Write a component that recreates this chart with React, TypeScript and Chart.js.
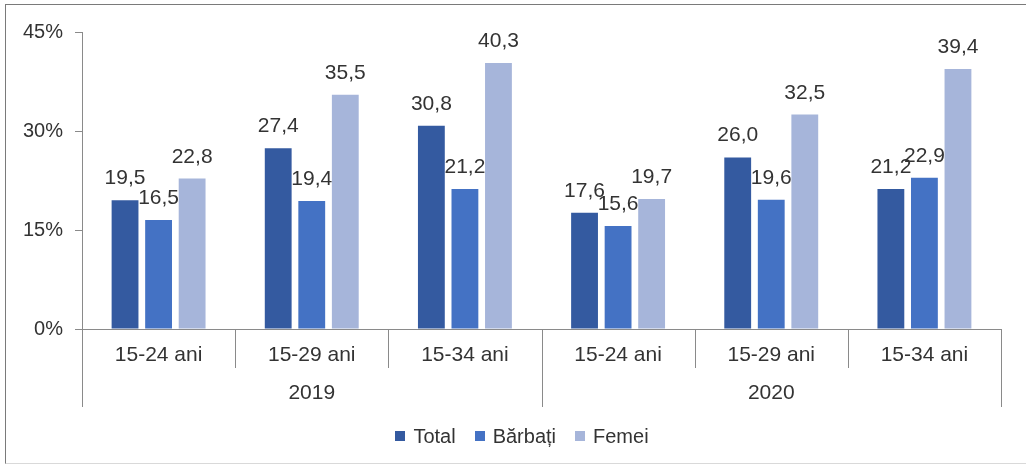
import React, { useEffect, useRef } from "react";
import { Chart, registerables } from "chart.js";

Chart.register(...registerables);

const categories = ["15-24 ani", "15-29 ani", "15-34 ani", "15-24 ani", "15-29 ani", "15-34 ani"];
const years = ["2019", "2020"];
const groupSize = 3;
const totalValues = [19.5, 27.4, 30.8, 17.6, 26.0, 21.2];
const barbatiValues = [16.5, 19.4, 21.2, 15.6, 19.6, 22.9];
const femeiValues = [22.8, 35.5, 40.3, 19.7, 32.5, 39.4];
const seriesNames = ["Total", "Bărbați", "Femei"];
const seriesColors = ["#345AA0", "#4472C4", "#A6B5DA"];
const yTicks = [0, 15, 30, 45];

const FONT = "'Liberation Sans', Arial, sans-serif";
const TEXT = "#333333";
const AXIS = "#8a8a8a";

const fmt = (v: number) => v.toFixed(1).replace(".", ",");

const labelsPlugin = {
  id: "valueLabels",
  afterDatasetsDraw(chart: any) {
    const ctx = chart.ctx;
    ctx.save();
    ctx.font = `21px ${FONT}`;
    ctx.fillStyle = TEXT;
    ctx.textAlign = "center";
    ctx.textBaseline = "alphabetic";
    chart.data.datasets.forEach((ds: any, di: number) => {
      const meta = chart.getDatasetMeta(di);
      meta.data.forEach((bar: any, i: number) => {
        ctx.fillText(fmt(ds.data[i]), bar.x, bar.y - 16);
      });
    });
    ctx.restore();
  },
};

const axisPlugin = {
  id: "groupAxis",
  afterDraw(chart: any) {
    const ctx = chart.ctx;
    const x = chart.scales.x;
    const area = chart.chartArea;
    const n = categories.length;
    const bound = (i: number) => {
      if (i === 0) return area.left;
      if (i === n) return area.right;
      return (x.getPixelForValue(i - 1) + x.getPixelForValue(i)) / 2;
    };
    ctx.save();
    ctx.strokeStyle = AXIS;
    ctx.lineWidth = 1;
    for (let i = 0; i <= n; i++) {
      const px = Math.round(bound(i)) + 0.5;
      const end = i % groupSize === 0 ? area.bottom + 78 : area.bottom + 39;
      ctx.beginPath();
      ctx.moveTo(px, area.bottom);
      ctx.lineTo(px, end);
      ctx.stroke();
    }
    ctx.font = `21px ${FONT}`;
    ctx.fillStyle = TEXT;
    ctx.textAlign = "center";
    ctx.textBaseline = "middle";
    years.forEach((yr, g) => {
      const cx = (bound(g * groupSize) + bound((g + 1) * groupSize)) / 2;
      ctx.fillText(yr, cx, area.bottom + 64);
    });

    // legend
    ctx.font = `20px ${FONT}`;
    ctx.textAlign = "left";
    const box = 10;
    const textGap = 8;
    const itemGap = 19;
    const widths = chart.data.datasets.map((ds: any) => box + textGap + ctx.measureText(ds.label).width);
    const total = widths.reduce((a: number, b: number) => a + b, 0) + itemGap * (widths.length - 1);
    let lx = chart.width / 2 + 9 - total / 2;
    const ly = area.bottom + 107;
    chart.data.datasets.forEach((ds: any, i: number) => {
      ctx.fillStyle = ds.backgroundColor;
      ctx.fillRect(Math.round(lx), Math.round(ly - box / 2), box, box);
      ctx.fillStyle = TEXT;
      ctx.fillText(ds.label, lx + box + textGap, ly + 1);
      lx += widths[i] + itemGap;
    });
    ctx.restore();
  },
};

export default function App() {
  const ref = useRef<HTMLCanvasElement | null>(null);
  useEffect(() => {
    if (!ref.current) return;
    const chart = new Chart(ref.current, {
      type: "bar",
      data: {
        labels: categories,
        datasets: [totalValues, barbatiValues, femeiValues].map((d, i) => ({
          label: seriesNames[i],
          data: d,
          backgroundColor: seriesColors[i],
          borderWidth: 0,
          categoryPercentage: 0.657,
          barPercentage: 0.8,
        })),
      },
      options: {
        animation: false,
        responsive: false,
        maintainAspectRatio: false,
        layout: { padding: { top: 32, left: 5, right: 25, bottom: 58 } },
        plugins: {
          tooltip: { enabled: false },
          legend: { display: false },
        },
        scales: {
          x: {
            grid: { display: true, drawOnChartArea: false, drawTicks: false },
            border: { display: true, color: AXIS, width: 1 },
            ticks: { color: TEXT, font: { family: FONT, size: 21 }, padding: 14, maxRotation: 0, autoSkip: false },
            afterFit: (s: any) => { s.height = 79; },
          },
          y: {
            min: 0,
            max: 45,
            afterBuildTicks: (s: any) => { s.ticks = yTicks.map((v) => ({ value: v })); },
            grid: { display: true, drawOnChartArea: false, drawTicks: true, tickLength: 7, color: AXIS },
            border: { display: true, color: AXIS, width: 1 },
            ticks: {
              color: TEXT,
              font: { family: FONT, size: 20 },
              padding: 12,
              callback: (v: any) => `${v}%`,
            },
            afterFit: (s: any) => { s.width = 77; },
          },
        },
      },
      plugins: [labelsPlugin, axisPlugin],
    });
    return () => chart.destroy();
  }, []);
  return (
    <div style={{ position: "fixed", left: 0, top: 0, width: 1026, height: 466, background: "#fff" }}>
      <canvas ref={ref} width={1026} height={466} style={{ position: "absolute", left: 0, top: 0 }} />
      <div
        style={{
          position: "absolute",
          left: 5,
          top: 4,
          width: 1021,
          height: 460,
          boxSizing: "border-box",
          borderTop: "1px solid #7a7a7a",
          borderLeft: "1px solid #7a7a7a",
          borderBottom: "1px solid #d9d9d9",
          pointerEvents: "none",
        }}
      />
    </div>
  );
}
